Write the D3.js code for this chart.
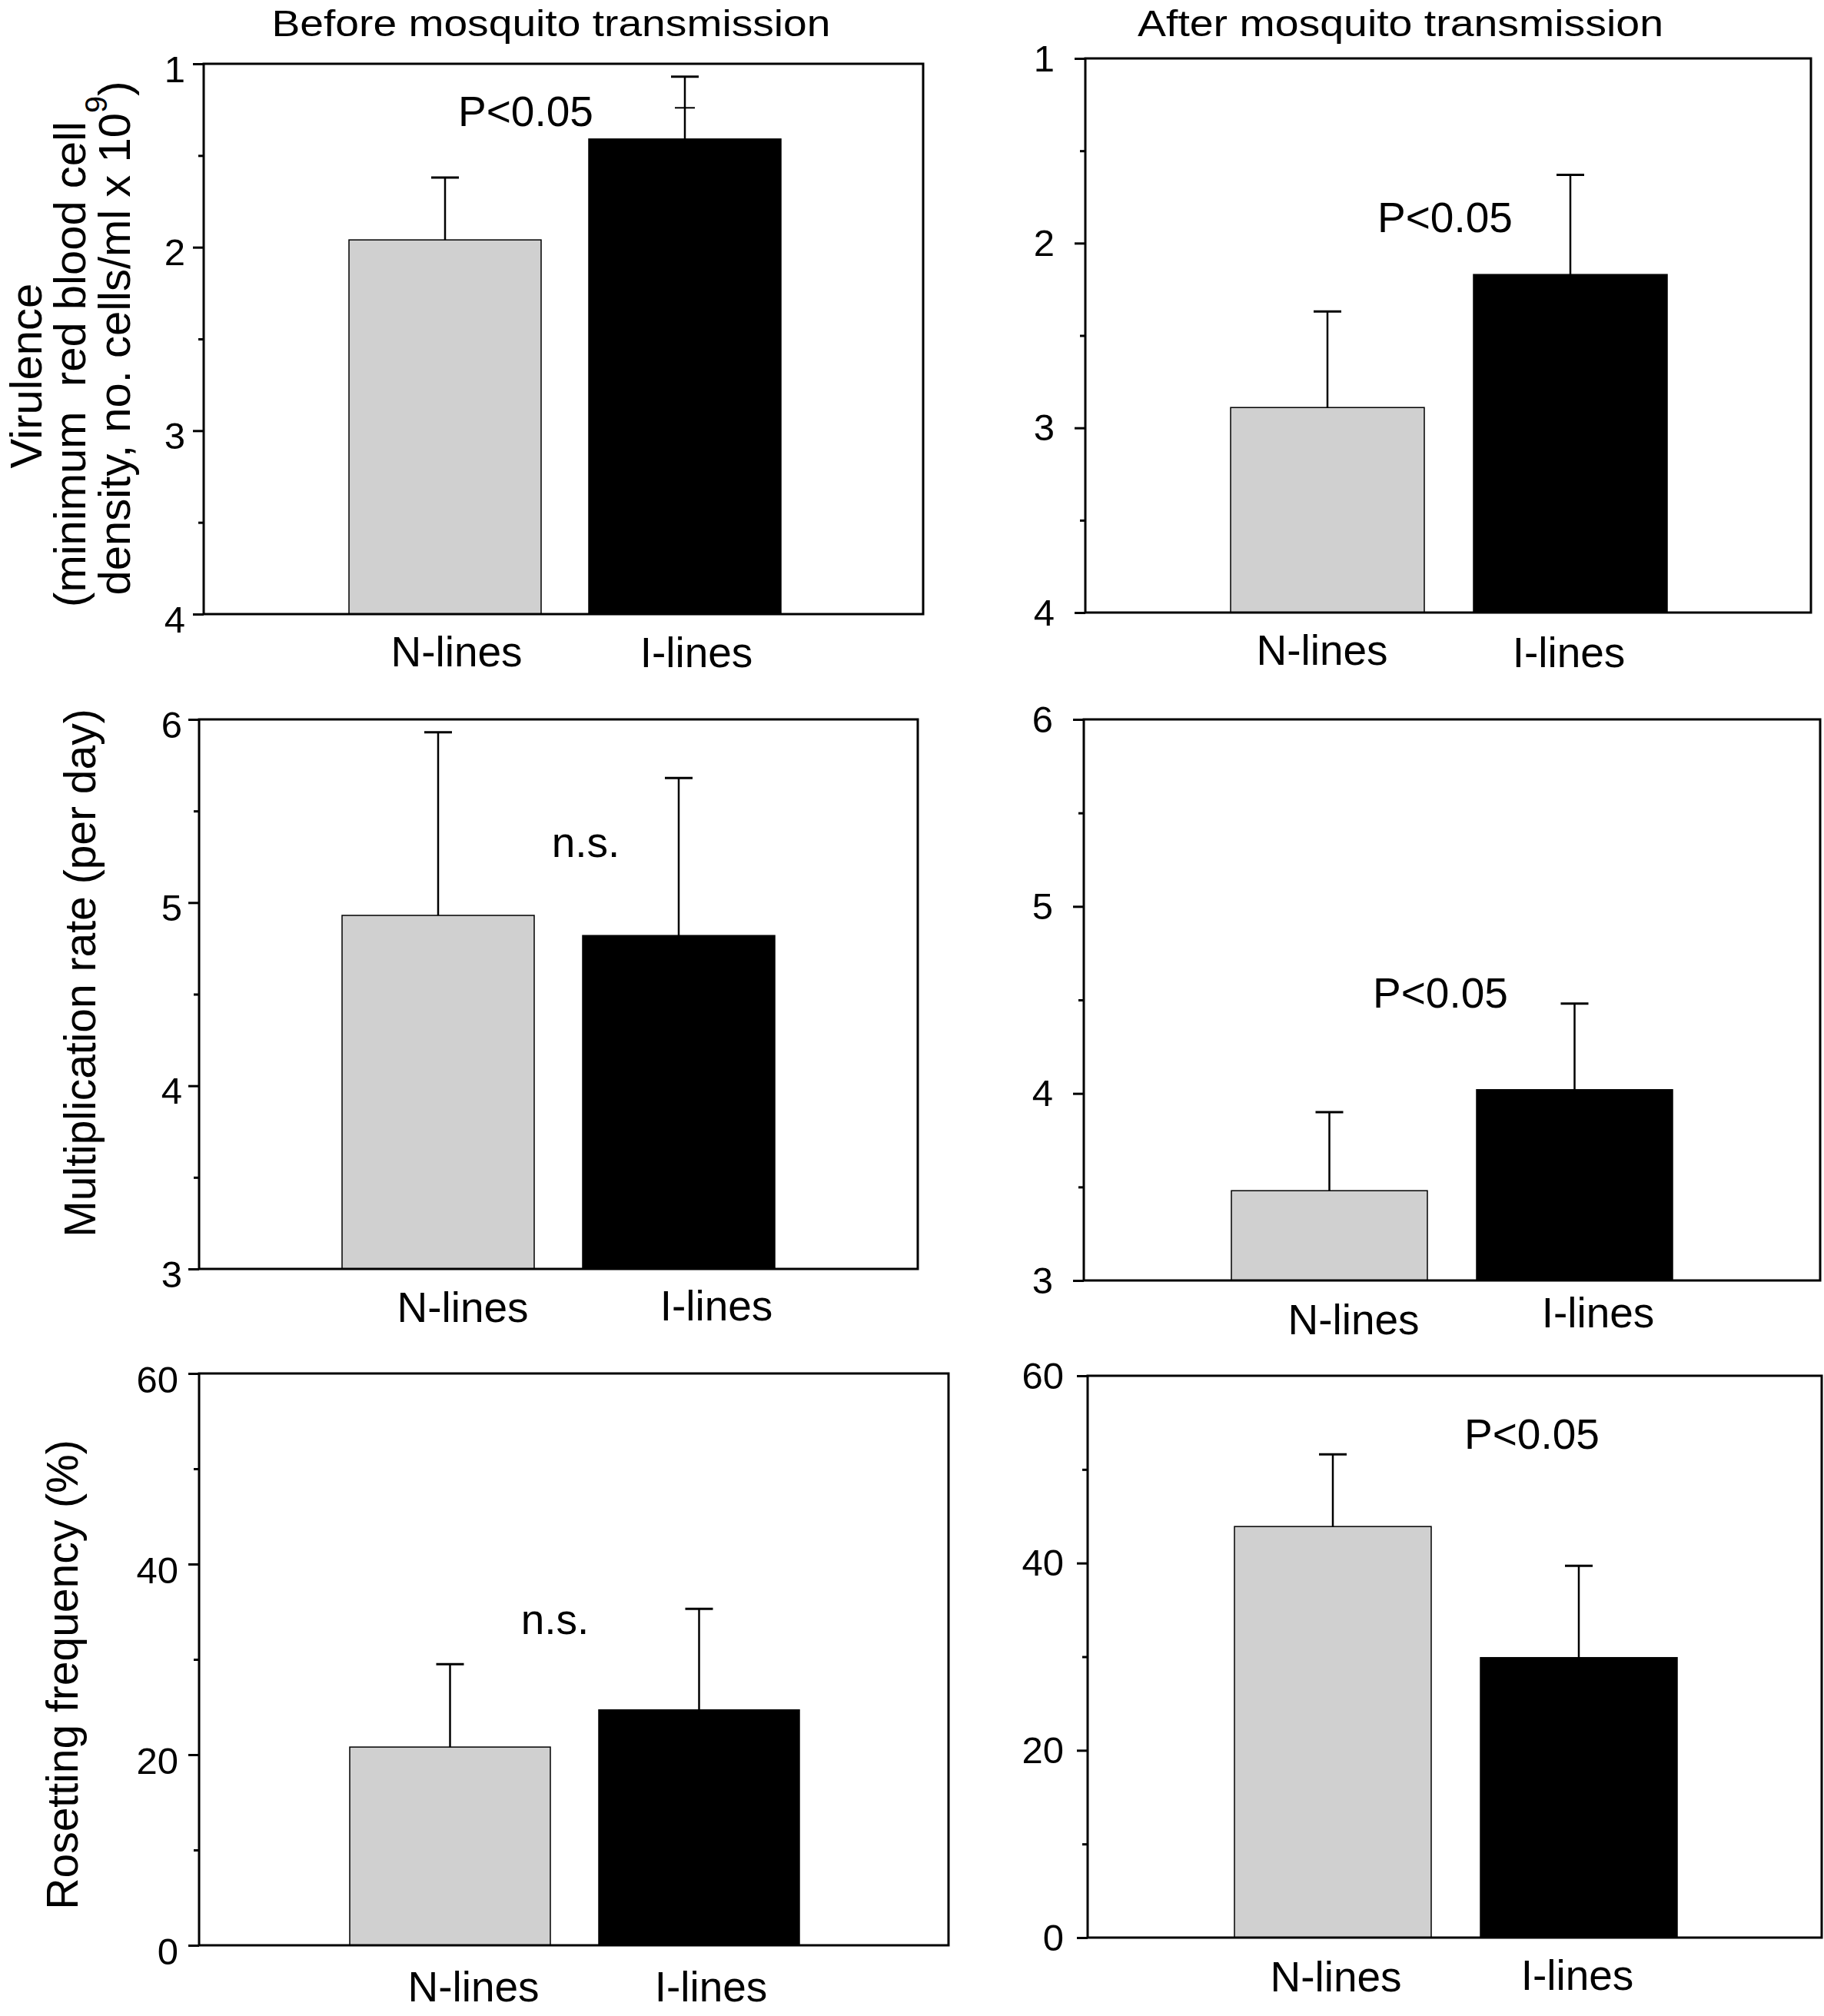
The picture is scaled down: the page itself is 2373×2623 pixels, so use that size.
<!DOCTYPE html>
<html><head><meta charset="utf-8">
<script src="https://cdn.jsdelivr.net/npm/d3@7"></script>
<style>
body{margin:0;background:#fff}
svg{display:block}
text{font-family:"Liberation Sans",Arial,Helvetica,sans-serif;fill:#000}
</style>
</head><body>
<svg id="chart" width="2373" height="2623"></svg>
<script>
// ---------------- data ----------------
const categories = ["N-lines", "I-lines"];

const virulenceBefore = [1.96, 1.41];
const virulenceBeforeErr = [0.34, 0.34];
const virulenceBeforeInnerCap = [null, 1.24];
const virulenceAfter = [2.89, 2.17];
const virulenceAfterErr = [0.52, 0.54];

const multiplicationBefore = [4.93, 4.82];
const multiplicationBeforeErr = [1.00, 0.86];
const multiplicationAfter = [3.48, 4.02];
const multiplicationAfterErr = [0.42, 0.46];

const rosettingBefore = [20.8, 24.7];
const rosettingBeforeErr = [8.7, 10.6];
const rosettingAfter = [43.9, 29.9];
const rosettingAfterErr = [7.7, 9.8];

const virulenceTicks = [1, 2, 3, 4];
const virulenceMinorTicks = [1.5, 2.5, 3.5];
const multiplicationTicks = [3, 4, 5, 6];
const multiplicationMinorTicks = [3.5, 4.5, 5.5];
const rosettingTicks = [0, 20, 40, 60];
const rosettingMinorTicks = [10, 30, 50];

const columnTitles = ["Before mosquito transmission", "After mosquito transmission"];
const notes = ["P<0.05", "P<0.05", "n.s.", "P<0.05", "n.s.", "P<0.05"];
const noteValues = [1.34, 1.94, 5.25, 4.46, 32.7, 52.2];

// ---------------- layout ----------------
const panels = [
  {values: virulenceBefore, err: virulenceBeforeErr, inner: virulenceBeforeInnerCap,
   domain: [1, 4], invert: true, major: virulenceTicks, minor: virulenceMinorTicks,
   box: {x0: 265, x1: 1201, y0: 83, y1: 799}, bar: {x0: 454, w: 250, g: 62},
   tickGap: 24, tickDy: 23, labelX: [594, 906], labelY: [867, 868], noteX: 684},
  {values: virulenceAfter, err: virulenceAfterErr,
   domain: [1, 4], invert: true, major: virulenceTicks, minor: virulenceMinorTicks,
   box: {x0: 1412, x1: 2356, y0: 76, y1: 797}, bar: {x0: 1601, w: 252, g: 64},
   tickGap: 40, tickDy: 16, labelX: [1720, 2041], labelY: [865, 868], noteX: 1880},
  {values: multiplicationBefore, err: multiplicationBeforeErr,
   domain: [3, 6], invert: false, major: multiplicationTicks, minor: multiplicationMinorTicks,
   box: {x0: 259, x1: 1194, y0: 936, y1: 1651}, bar: {x0: 445, w: 250, g: 63},
   tickGap: 22, tickDy: 23, labelX: [602, 932], labelY: [1720, 1718], noteX: 762},
  {values: multiplicationAfter, err: multiplicationAfterErr,
   domain: [3, 6], invert: false, major: multiplicationTicks, minor: multiplicationMinorTicks,
   box: {x0: 1410, x1: 2368, y0: 936, y1: 1666}, bar: {x0: 1602, w: 255, g: 64},
   tickGap: 40, tickDy: 16, labelX: [1761, 2079], labelY: [1736, 1727], noteX: 1874},
  {values: rosettingBefore, err: rosettingBeforeErr,
   domain: [0, 60], invert: false, major: rosettingTicks, minor: rosettingMinorTicks,
   box: {x0: 259, x1: 1234, y0: 1787, y1: 2531}, bar: {x0: 455, w: 261, g: 63},
   tickGap: 27, tickDy: 24, labelX: [616, 925], labelY: [2604, 2604], noteX: 722},
  {values: rosettingAfter, err: rosettingAfterErr,
   domain: [0, 60], invert: false, major: rosettingTicks, minor: rosettingMinorTicks,
   box: {x0: 1415, x1: 2370, y0: 1790, y1: 2521}, bar: {x0: 1606, w: 256, g: 64},
   tickGap: 31, tickDy: 16, labelX: [1738, 2052], labelY: [2591, 2589], noteX: 1993}
];

const fills = ["#d0d0d0", "#000000"];
const svg = d3.select("#chart");

panels.forEach((p, i) => {
  const b = p.box;
  const y = d3.scaleLinear().domain(p.domain)
    .range(p.invert ? [b.y0, b.y1] : [b.y1, b.y0]);
  const base = p.invert ? p.domain[1] : p.domain[0];
  const x = d3.scaleBand().domain(categories)
    .range([p.bar.x0, p.bar.x0 + 2 * p.bar.w + p.bar.g])
    .paddingInner(p.bar.g / (p.bar.w + p.bar.g)).paddingOuter(0);
  const g = svg.append("g");

  // bars
  g.selectAll("rect.bar").data(categories).join("rect")
    .attr("class", "bar")
    .attr("x", c => x(c))
    .attr("width", x.bandwidth())
    .attr("y", (c, k) => Math.min(y(base), y(p.values[k])))
    .attr("height", (c, k) => Math.abs(y(base) - y(p.values[k])))
    .attr("fill", (c, k) => fills[k])
    .attr("stroke", "#000").attr("stroke-width", 1.5);

  // error bars
  const errTop = k => p.invert ? p.values[k] - p.err[k] : p.values[k] + p.err[k];
  const cx = c => x(c) + x.bandwidth() / 2;
  g.selectAll("line.err").data(categories).join("line")
    .attr("x1", cx).attr("x2", cx)
    .attr("y1", (c, k) => y(p.values[k])).attr("y2", (c, k) => y(errTop(k)))
    .attr("stroke", "#000").attr("stroke-width", 2.5);
  g.selectAll("line.cap").data(categories).join("line")
    .attr("x1", c => cx(c) - 18).attr("x2", c => cx(c) + 18)
    .attr("y1", (c, k) => y(errTop(k))).attr("y2", (c, k) => y(errTop(k)))
    .attr("stroke", "#000").attr("stroke-width", 3);
  if (p.inner) {
    categories.forEach((c, k) => {
      if (p.inner[k] == null) return;
      g.append("line")
        .attr("x1", cx(c) - 13).attr("x2", cx(c) + 13)
        .attr("y1", y(p.inner[k])).attr("y2", y(p.inner[k]))
        .attr("stroke", "#000").attr("stroke-width", 2);
    });
  }

  // frame
  g.append("rect").attr("x", b.x0).attr("y", b.y0)
    .attr("width", b.x1 - b.x0).attr("height", b.y1 - b.y0)
    .attr("fill", "none").attr("stroke", "#000").attr("stroke-width", 3);

  // y axis major
  const ax = g.append("g").attr("transform", `translate(${b.x0},0)`)
    .call(d3.axisLeft(y).tickValues(p.major).tickSize(14)
      .tickPadding(p.tickGap - 14).tickFormat(d3.format("d")));
  ax.select(".domain").remove();
  ax.selectAll(".tick line").attr("stroke", "#000").attr("stroke-width", 3);
  ax.selectAll(".tick text").attr("dy", null).attr("y", p.tickDy)
    .attr("font-size", 49).attr("font-family", '"Liberation Sans",Arial,sans-serif')
    .attr("fill", "#000");
  // minor
  const mx = g.append("g").attr("transform", `translate(${b.x0},0)`)
    .call(d3.axisLeft(y).tickValues(p.minor).tickSize(7).tickFormat(""));
  mx.select(".domain").remove();
  mx.selectAll(".tick line").attr("stroke", "#000").attr("stroke-width", 3);

  // category labels
  g.selectAll("text.cat").data(categories).join("text")
    .attr("class", "cat")
    .attr("x", (c, k) => p.labelX[k]).attr("y", (c, k) => p.labelY[k])
    .attr("text-anchor", "middle").attr("font-size", 55)
    .text(c => c);

  // note
  g.append("text").attr("x", p.noteX).attr("y", y(noteValues[i]))
    .attr("text-anchor", "middle").attr("font-size", 55).text(notes[i]);
});

// column titles
svg.append("text").attr("x", 717).attr("y", 47).attr("text-anchor", "middle")
  .attr("font-size", 48).attr("textLength", 727).attr("lengthAdjust", "spacingAndGlyphs")
  .text(columnTitles[0]);
svg.append("text").attr("x", 1822).attr("y", 47).attr("text-anchor", "middle")
  .attr("font-size", 48).attr("textLength", 684).attr("lengthAdjust", "spacingAndGlyphs")
  .text(columnTitles[1]);

// y-axis titles
function vtext(xb, yc, size) {
  return svg.append("text").attr("transform", `translate(${xb},${yc}) rotate(-90)`)
    .attr("text-anchor", "middle").attr("font-size", size);
}
vtext(54, 489, 58).text("Virulence");
vtext(111, 474, 58).style("white-space", "pre").text("(minimum  red blood cell");
const t3 = vtext(169, 440, 58);
t3.append("tspan").text("density, no. cells/ml x 10");
t3.append("tspan").attr("font-size", 40).attr("dy", -30).text("9");
t3.append("tspan").attr("dy", 30).text(")");
vtext(124, 1266, 57).text("Multiplication rate (per day)");
vtext(101, 2179, 57).text("Rosetting frequency (%)");
</script>
</body></html>
